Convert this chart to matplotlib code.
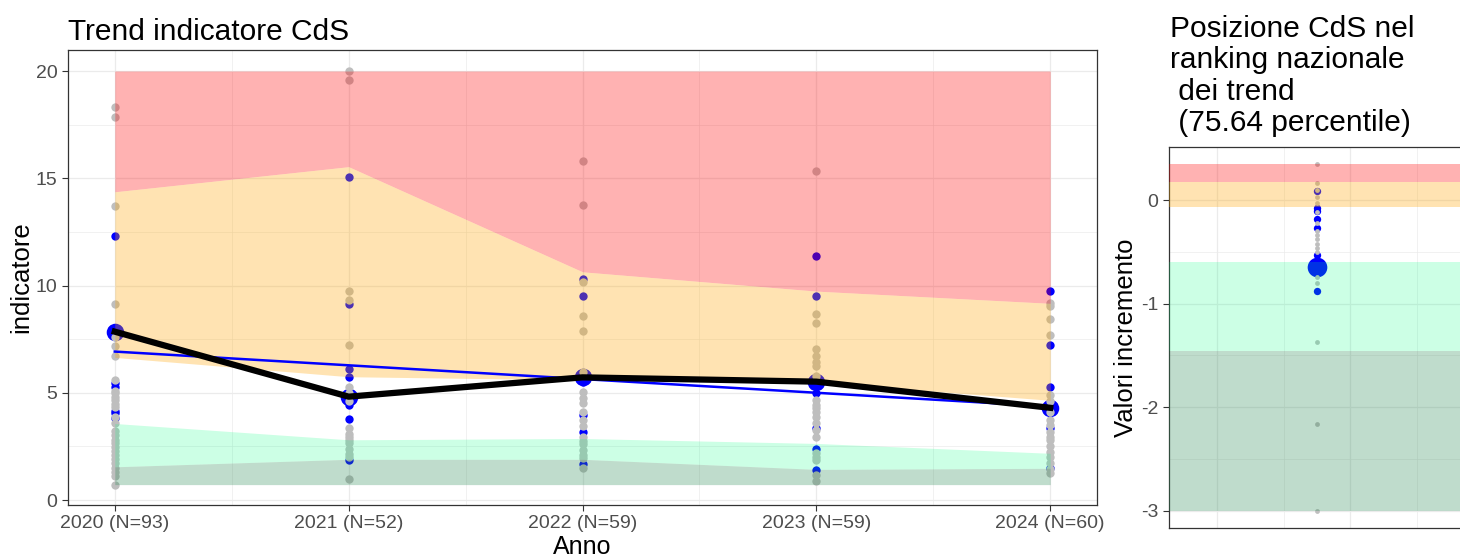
import numpy as np
import matplotlib
matplotlib.use("Agg")
import matplotlib.pyplot as plt

plt.rcParams['font.family'] = ['Liberation Sans', 'DejaVu Sans']
plt.rcParams['axes.unicode_minus'] = False

# --- dati pannello sinistro ---
years = [2020, 2021, 2022, 2023, 2024]
n_cds = [93, 52, 59, 59, 60]
cds_value = [7.85, 4.82, 5.72, 5.52, 4.30]

band_min = [0.72, 0.72, 0.72, 0.72, 0.72]
band_q1 = [1.55, 1.90, 1.90, 1.43, 1.48]
band_q2 = [3.57, 2.81, 2.87, 2.64, 2.18]
band_q3 = [6.65, 5.75, 5.60, 5.50, 4.65]
band_q4 = [14.37, 15.54, 10.64, 9.74, 9.17]
band_max = [20.0, 20.0, 20.0, 20.0, 20.0]

gray_2020 = [18.32, 17.88, 13.72, 9.13, 7.61, 7.18, 6.71, 5.59, 5.10, 4.97, 4.80, 4.66,
             4.50, 4.35, 3.89, 3.58, 3.20, 3.04, 2.80, 2.65, 2.49, 2.30, 2.11, 1.90,
             1.72, 1.50, 1.33, 1.10, 0.72]
blue_2020 = [12.31, 5.44, 5.28, 4.15, 4.05, 3.81]
gray_2021 = [20.0, 19.57, 9.76, 9.34, 7.21, 5.25, 5.00, 4.60, 3.35, 3.10, 2.95, 2.80,
             2.64, 2.40, 2.17, 2.00, 0.99]
blue_2021 = [15.04, 9.16, 6.12, 5.75, 4.95, 4.42, 3.80, 1.86]
gray_2022 = [15.82, 13.76, 10.18, 8.60, 7.88, 5.98, 5.05, 4.75, 4.51, 4.12, 3.73, 3.45,
             2.96, 2.75, 2.60, 2.34, 2.10, 1.95, 1.50]
blue_2022 = [10.32, 9.50, 5.50, 3.95, 3.17, 1.68]
gray_2023 = [15.33, 8.68, 8.26, 7.04, 6.72, 6.45, 6.25, 5.80, 4.65, 4.45, 4.28, 4.10,
             3.88, 3.60, 3.27, 2.96, 2.20, 2.02, 1.87, 1.15, 0.91]
blue_2023 = [11.39, 9.52, 4.97, 3.34, 2.38, 1.40]
gray_2024 = [9.17, 9.05, 8.42, 7.69, 4.90, 4.60, 4.12, 3.73, 3.50, 3.17, 2.95, 2.80,
             2.50, 2.24, 2.00, 1.72, 1.45, 1.26]
blue_2024 = [9.76, 7.21, 5.28, 3.34, 1.50]

gray_points = [gray_2020, gray_2021, gray_2022, gray_2023, gray_2024]
blue_points = [blue_2020, blue_2021, blue_2022, blue_2023, blue_2024]

# --- dati pannello destro ---
incr_gray = [0.345, 0.16, 0.10, 0.03, -0.03, -0.12, -0.22, -0.30, -0.34, -0.38, -0.42,
             -0.46, -0.50, -0.74, -0.80, -1.37, -2.16, -3.0]
incr_blue = [0.09, -0.08, -0.11, -0.18, -0.27, -0.53, -0.88]
incr_cds = -0.645
incr_bands = [0.345, 0.175, -0.065, -0.60, -1.455, -3.0]

RED = '#FF0000'
ORANGE = '#FFA500'
LGREEN = '#00FF7F'
DGREEN = '#2E8B57'
GRID = '#EBEBEB'
TXT = '#4D4D4D'
BORDER = '#333333'


def style(ax):
    for s in ax.spines.values():
        s.set_color(BORDER)
        s.set_linewidth(0.9)
    ax.set_axisbelow(True)
    ax.grid(True, which='major', color=GRID, lw=0.9)
    ax.grid(True, which='minor', color=GRID, lw=0.5)
    ax.tick_params(which='major', colors=BORDER, labelcolor=TXT, labelsize=14, length=4)
    ax.tick_params(which='minor', length=0)


fig = plt.figure(figsize=(14.6, 5.57), dpi=100)

# ---------------- pannello sinistro ----------------
ax = fig.add_axes([68 / 1460, 1 - 505 / 557, (1097 - 68) / 1460, 455 / 557])
style(ax)
x = np.arange(len(years))

for i in x:
    ax.scatter([i] * len(blue_points[i]), blue_points[i], s=36, color='#0000FF', lw=0, zorder=2)
    ax.scatter([i] * len(gray_points[i]), gray_points[i], s=36, color='#BEBEBE', lw=0, zorder=2.1)
ax.scatter(x, cds_value, s=160, color='#0000FF', lw=0, zorder=1.9)

ax.fill_between(x, band_q4, band_max, color=RED, alpha=0.3, lw=0, zorder=3)
ax.fill_between(x, band_q3, band_q4, color=ORANGE, alpha=0.3, lw=0, zorder=3)
ax.fill_between(x, band_q1, band_q2, color=LGREEN, alpha=0.2, lw=0, zorder=3)
ax.fill_between(x, band_min, band_q1, color=DGREEN, alpha=0.3, lw=0, zorder=3)

# retta di tendenza (lm) sui valori del CdS
fit = np.polyfit(x, cds_value, 1)
ax.plot(x, np.polyval(fit, x), color='#0000FF', lw=1.8, zorder=4)
ax.plot(x, cds_value, color='black', lw=4.5, zorder=5)

ax.set_xlim(-0.2, 4.2)
ax.set_ylim(-0.23, 20.98)
ax.set_xticks(x)
ax.set_xticklabels([f'{y} (N={n})' for y, n in zip(years, n_cds)])
ax.set_xticks([0.5, 1.5, 2.5, 3.5], minor=True)
ax.set_yticks([0, 5, 10, 15, 20])
ax.set_yticks([2.5, 7.5, 12.5, 17.5], minor=True)
ax.set_xlabel('Anno', fontsize=18, labelpad=2)
ax.set_ylabel('indicatore', fontsize=18.5, labelpad=2)
ax.set_title('Trend indicatore CdS', fontsize=21.5, loc='left', pad=7)

# ---------------- pannello destro ----------------
ax2 = fig.add_axes([1169 / 1460, 1 - 528 / 557, (1465 - 1169) / 1460, (528 - 147) / 557])
style(ax2)
band_cols = [(RED, 0.3), (ORANGE, 0.3), None, (LGREEN, 0.2), (DGREEN, 0.3)]
ax2.scatter([0] * len(incr_blue), incr_blue, s=28, color='#0000FF', lw=0, zorder=2)
ax2.scatter([0] * len(incr_gray), incr_gray, s=12, color='#BEBEBE', lw=0, zorder=2.1)
ax2.scatter([0], [incr_cds], s=200, color='#0000FF', lw=0, zorder=1.9)
for k, bc in enumerate(band_cols):
    if bc is None:
        continue
    ax2.axhspan(incr_bands[k + 1], incr_bands[k], color=bc[0], alpha=bc[1], lw=0, zorder=3)

ax2.set_xlim(-2.21, 2.21)
ax2.set_ylim(-3.166, 0.512)
ax2.set_xticks([-1.5, 0.5])
ax2.set_xticks([-0.5, 1.5], minor=True)
ax2.set_xticklabels([])
ax2.tick_params(axis='x', which='major', length=0)
ax2.set_yticks([-3, -2, -1, 0])
ax2.set_yticks([-2.5, -1.5, -0.5], minor=True)
ax2.set_ylabel('Valori incremento', fontsize=18.5, labelpad=2)

fig.text(1170 / 1460, 1 - 15 / 557,
         'Posizione CdS nel\nranking nazionale\n dei trend\n (75.64 percentile)',
         fontsize=21.5, ha='left', va='top', linespacing=1.15)

fig.savefig('out.png', dpi=100)
